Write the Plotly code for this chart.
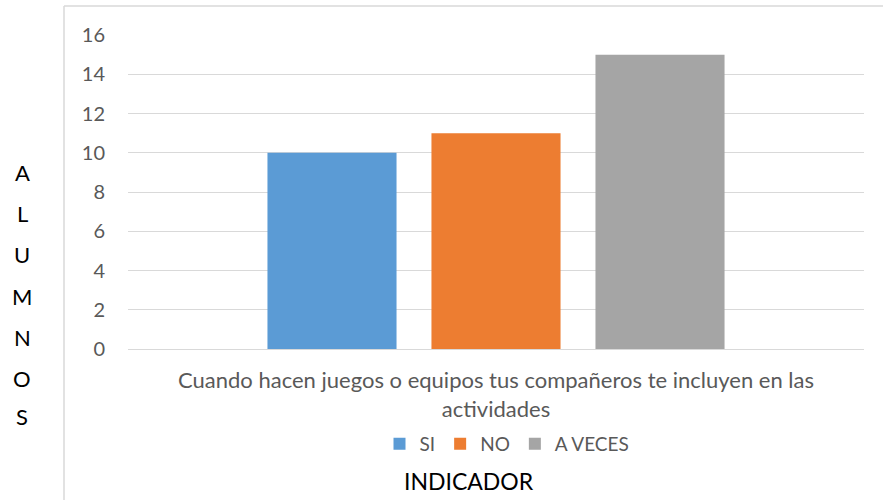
import plotly.graph_objects as go

categories = ["Cuando hacen juegos o equipos tus compañeros te incluyen en las<br>actividades"]
series_names = ["SI", "NO", "A VECES"]
series_values = [[10], [11], [15]]
colors = ["#5B9BD5", "#ED7D31", "#A5A5A5"]
y_ticks = [0, 2, 4, 6, 8, 10, 12, 14, 16]
y_title_letters = ["A", "L", "U", "M", "N", "O", "S"]
x_title = "INDICADOR"

FONT = "Lato, Carlito, Calibri, sans-serif"
GRAY = "#595959"

fig = go.Figure()
for name, vals, c in zip(series_names, series_values, colors):
    fig.add_trace(go.Bar(x=categories, y=vals, name=name, marker=dict(color=c, line=dict(width=0))))

W, H = 883, 500
L, R, T, B = 128, 19, 35, 151
pw, ph = W - L - R, H - T - B

def px(x):
    return (x - L) / pw

def py(y):
    return (H - B - y) / ph

fig.update_layout(
    width=W, height=H,
    margin=dict(l=L, r=R, t=T, b=B, autoexpand=False),
    paper_bgcolor="white", plot_bgcolor="white",
    barmode="group", bargap=0.3315, bargroupgap=0.213,
    font=dict(family=FONT, color=GRAY),
    showlegend=True,
    legend=dict(orientation="h", x=px(507), xanchor="center", y=py(444), yanchor="middle",
                font=dict(size=19, color=GRAY), itemwidth=30, traceorder="normal",
                bgcolor="rgba(0,0,0,0)"),
    xaxis=dict(showgrid=False, showline=False, ticks="", tickfont=dict(size=22, color=GRAY),
               ticklabelstandoff=16),
    yaxis=dict(range=[0, 16], tickvals=y_ticks, showgrid=True, gridcolor="#D9D9D9", gridwidth=1.3,
               zeroline=True, zerolinecolor="#D9D9D9", zerolinewidth=1.3,
               showline=False, ticks="", tickfont=dict(size=20, color=GRAY), ticklabelstandoff=22),
)

# outer chart border (left and top edges visible)
border = "#D9D9D9"
fig.add_shape(type="line", xref="paper", yref="paper", x0=px(64), x1=px(64), y0=py(500), y1=py(6),
              line=dict(color=border, width=1.5))
fig.add_shape(type="line", xref="paper", yref="paper", x0=px(64), x1=px(883), y0=py(6), y1=py(6),
              line=dict(color=border, width=1.5))

# y title stacked letters
letter_ys = [172, 213, 254, 296, 337, 378, 416]
for ch, yy in zip(y_title_letters, letter_ys):
    fig.add_annotation(text=ch, xref="paper", yref="paper", x=px(22), y=py(yy), showarrow=False,
                       xanchor="center", yanchor="middle", font=dict(size=22, color="black", family=FONT))

fig.add_annotation(text=x_title, xref="paper", yref="paper", x=px(469), y=py(481), showarrow=False,
                   xanchor="center", yanchor="middle", font=dict(size=23, color="black", family=FONT))

fig.write_html("out.html", config={"displayModeBar": False},
               post_script="document.body.style.margin='0';document.body.style.padding='0';")
